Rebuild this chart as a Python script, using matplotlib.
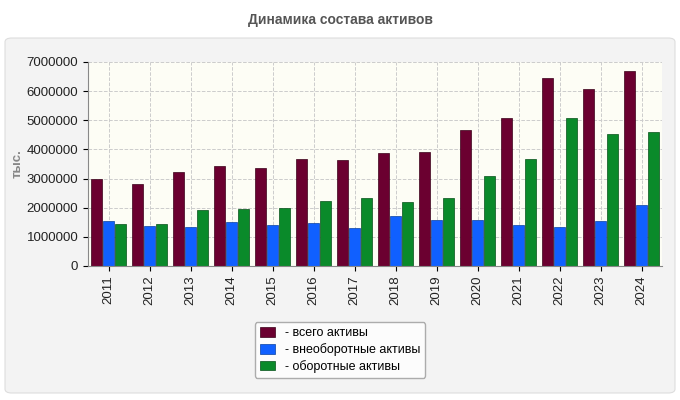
import matplotlib
matplotlib.use("Agg")
import matplotlib.pyplot as plt
from matplotlib.patches import FancyBboxPatch
import numpy as np

plt.rcParams["font.family"] = "Liberation Sans"

years = ["2011","2012","2013","2014","2015","2016","2017","2018","2019","2020","2021","2022","2023","2024"]
total = [2990000,2810000,3230000,3430000,3360000,3670000,3640000,3880000,3910000,4670000,5080000,6450000,6070000,6690000]
noncurrent = [1540000,1370000,1340000,1510000,1410000,1480000,1300000,1720000,1580000,1580000,1410000,1340000,1540000,2090000]
current = [1440000,1440000,1920000,1960000,1990000,2230000,2330000,2200000,2330000,3090000,3670000,5080000,4530000,4600000]
yticks = [0,1000000,2000000,3000000,4000000,5000000,6000000,7000000]

W, H = 680, 400
fig = plt.figure(figsize=(W/100, H/100), dpi=100)
fig.patch.set_facecolor("white")
panel = FancyBboxPatch((5/W, 7/H), 670/W, 355/H, boxstyle="round,pad=0,rounding_size=0.01",
                       transform=fig.transFigure, facecolor="#f3f3f3", edgecolor="#dddddd", lw=0.8,
                       zorder=-10)
fig.patches.append(panel)
fig.text(340/W, 1-20/H, "Динамика состава активов", ha="center", va="center",
         fontsize=10, fontweight="bold", color="#555555")

ax = fig.add_axes([88/W, 1-266/H, (662-88)/W, (266-62)/H])
ax.set_zorder(1)
ax.set_facecolor("#fdfdf5")
x = np.arange(len(years))
w = 0.29
ax.bar(x - w, total, w*0.95, color="#6b0030", edgecolor="#3a0018", lw=0.5, label="- всего активы")
ax.bar(x, noncurrent, w*0.95, color="#1060ff", edgecolor="#0840a0", lw=0.5, label="- внеоборотные активы")
ax.bar(x + w, current, w*0.95, color="#0a8a2a", edgecolor="#055018", lw=0.5, label="- оборотные активы")
ax.set_xlim(-0.5, len(years) - 0.5)
ax.set_ylim(0, 7000000)
ax.set_yticks(yticks)
ax.set_yticklabels([str(v) for v in yticks], fontsize=9.5, color="#222222")
ax.set_xticks(x)
ax.set_xticklabels(years, rotation=90, fontsize=9.5, color="#222222")
ax.grid(True, ls="--", color="#cccccc", lw=0.7)
ax.set_axisbelow(True)
for s in ["top", "right"]:
    ax.spines[s].set_visible(False)
ax.spines["left"].set_color("#888888")
ax.spines["bottom"].set_color("#888888")
fig.text(18/W, 1-164/H, "тыс.", rotation=90, ha="center", va="center", fontsize=9.5,
         fontweight="bold", color="#888888")
leg = fig.legend(loc="center", bbox_to_anchor=(340/W, 1-350/H), fontsize=9,
                 frameon=True, fancybox=True, edgecolor="#999999", handlelength=1.2,
                 handleheight=0.8, labelspacing=0.3)
leg.get_frame().set_facecolor("white")
fig.savefig("out.png", dpi=100)
